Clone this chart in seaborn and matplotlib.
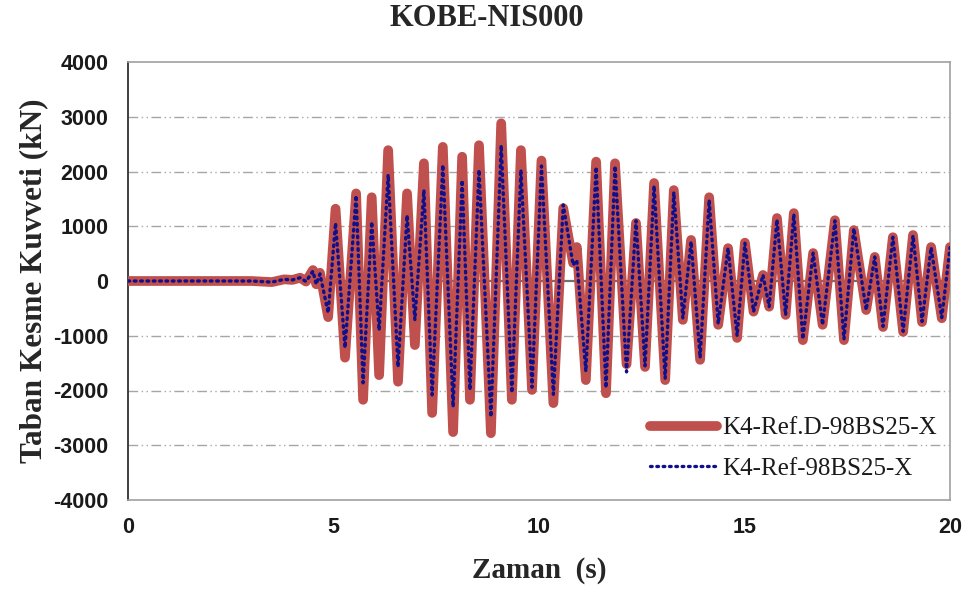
import matplotlib
matplotlib.use("Agg")
import matplotlib.pyplot as plt
import seaborn as sns
import pandas as pd

# ---- data ----
time_s = [0, 1, 2, 3, 3.5, 3.8, 4.0, 4.19, 4.33, 4.5, 4.58, 4.67, 4.87, 5.05, 5.28,
          5.55, 5.72, 5.93, 6.11, 6.33, 6.57, 6.79, 6.98, 7.2, 7.4, 7.66, 7.91, 8.13,
          8.32, 8.54, 8.83, 9.08, 9.34, 9.56, 9.83, 10.06, 10.35, 10.59, 10.83, 10.92,
          11.14, 11.39, 11.63, 11.85, 12.13, 12.36, 12.58, 12.8, 13.07, 13.28, 13.5,
          13.7, 13.92, 14.14, 14.36, 14.6, 14.82, 15.01, 15.22, 15.45, 15.6, 15.79,
          16.0, 16.2, 16.42, 16.67, 16.9, 17.2, 17.42, 17.66, 17.96, 18.17, 18.37,
          18.61, 18.86, 19.1, 19.32, 19.54, 19.8, 20.0]

shear_refD = [0, 0, 0, 0, -20, 30, 20, 60, -10, 200, -60, 150, -660, 1320, -1400,
              1600, -2170, 1530, -1720, 2390, -1840, 1600, -1170, 2150, -2410, 2450,
              -2760, 2270, -2170, 2480, -2780, 2880, -2170, 2390, -1990, 2200, -2230,
              1330, 330, 620, -1810, 2180, -2050, 2150, -1520, 1060, -1570, 1790, -1810,
              1660, -710, 750, -1440, 1530, -800, 600, -1040, 700, -560, 110, -470, 1150,
              -620, 1240, -1080, 510, -800, 1110, -1080, 930, -530, 440, -840, 800, -930,
              840, -750, 620, -680, 620]

shear_ref = [0, 0, 0, 0, -20, 30, 20, 60, -10, 180, -60, 130, -580, 1060, -1220,
             1560, -1860, 1080, -900, 1940, -1570, 1200, -710, 1660, -2080, 2120,
             -2300, 1840, -1990, 2030, -2480, 2480, -2040, 2030, -1940, 2100, -2070,
             1390, 290, 380, -1650, 2080, -1950, 2100, -1660, 1100, -1550, 1740, -1780,
             1620, -680, 720, -1400, 1480, -780, 600, -1000, 690, -560, 110, -470, 1120,
             -620, 1220, -1060, 510, -800, 1100, -1060, 960, -530, 440, -830, 800, -920,
             830, -740, 610, -670, 610]

label_refD = "K4-Ref.D-98BS25-X"
label_ref = "K4-Ref-98BS25-X"
y_ticks = [-4000, -3000, -2000, -1000, 0, 1000, 2000, 3000, 4000]
x_ticks = [0, 5, 10, 15, 20]

df = pd.DataFrame({"t": time_s, "refD": shear_refD, "ref": shear_ref})

# ---- figure ----
sns.set_theme(style="white")
plt.rcParams["font.family"] = ["Liberation Serif", "DejaVu Serif"]

fig, ax = plt.subplots(figsize=(9.74, 5.9), dpi=100)
fig.subplots_adjust(left=128 / 974, right=950 / 974, top=1 - 62 / 590, bottom=1 - 500 / 590)

# gridlines (dash-dot-dot), zero line solid
for yv in y_ticks[1:-1]:
    if yv == 0:
        ax.axhline(0, color="#707070", lw=1.6, zorder=1)
    else:
        ax.axhline(yv, color="#a6a6a6", lw=1.0, linestyle=(0, (7, 2.5, 1, 2.5, 1, 2.5)), zorder=1)

sns.lineplot(data=df, x="t", y="refD", ax=ax, color="#C0504D", lw=7.0,
             solid_joinstyle="round", solid_capstyle="round", label=label_refD,
             estimator=None, sort=False, zorder=3)
sns.lineplot(data=df, x="t", y="ref", ax=ax, color="#10108a", lw=2.4,
             linestyle=(0, (0.5, 1.4)), dash_capstyle="round", label=label_ref,
             estimator=None, sort=False, zorder=4)

ax.set_xlim(0, 20)
ax.set_ylim(-4000, 4000)
ax.set_xticks(x_ticks)
ax.set_yticks(y_ticks)
ax.set_xticklabels([str(v) for v in x_ticks], fontfamily="Liberation Sans", fontweight="bold",
                   fontsize=15.5, color="#1a1a1a")
ax.set_yticklabels([str(v) for v in y_ticks], fontfamily="Liberation Sans", fontweight="bold",
                   fontsize=15.5, color="#1a1a1a")
ax.tick_params(axis="both", length=0)
ax.tick_params(axis="x", pad=12)
ax.tick_params(axis="y", pad=14)

for side in ["top", "right", "bottom"]:
    ax.spines[side].set_color("#a0a0a0")
    ax.spines[side].set_linewidth(1.2)
ax.spines["left"].set_color("#303030")
ax.spines["left"].set_linewidth(1.3)

ax.set_xlabel("Zaman  (s)", fontsize=21, fontweight="bold", labelpad=14)
ax.set_ylabel("Taban Kesme Kuvveti (kN)", fontsize=22.5, fontweight="bold", labelpad=4)
fig.text(0.5, 1 - 19 / 590, "KOBE-NIS000", fontsize=22, fontweight="bold",
         ha="center", va="center")

leg = ax.legend(loc="center left", bbox_to_anchor=(0.635, 0.118), frameon=False,
                fontsize=18, handlelength=2.7, handletextpad=0.2, borderpad=0,
                borderaxespad=0, labelspacing=0.72)
for txt in leg.get_texts():
    txt.set_color("#1a1a1a")

fig.savefig("out.png", dpi=100, facecolor="white")
